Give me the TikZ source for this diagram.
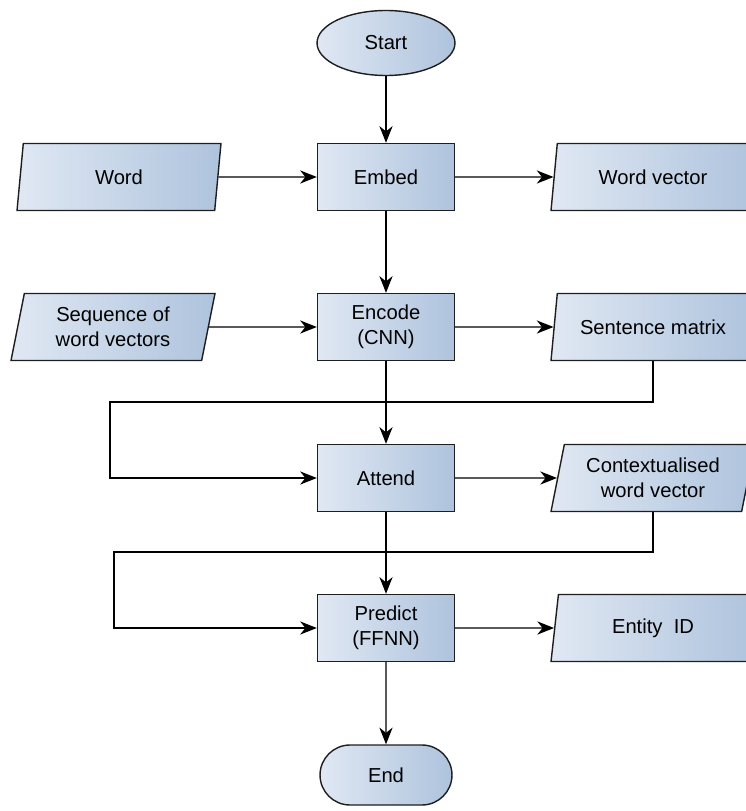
\documentclass[tikz,border=0pt]{standalone}
\usepackage{fontspec}
\setmainfont{Liberation Sans}
\usetikzlibrary{arrows.meta,shapes.geometric,shapes.misc}
\definecolor{BoxLight}{HTML}{E0E8F3}
\definecolor{BoxDark}{HTML}{AEC3DD}
\definecolor{EdgeGrey}{HTML}{1E1E1E}
\tikzset{
  flowbox/.style={draw=EdgeGrey,line width=0.8pt,left color=BoxLight,right color=BoxDark,
    minimum width=2.74cm,minimum height=1.34cm,align=center,inner sep=2pt,
    font=\fontsize{11.5}{14}\selectfont},
  flowio/.style={flowbox,trapezium,trapezium left angle=74,trapezium right angle=106,
    trapezium stretches body,minimum width=4.08cm},
  flowstart/.style={flowbox,ellipse,minimum width=2.76cm,minimum height=1.3cm},
  flowend/.style={flowbox,rounded rectangle,minimum width=2.78cm,minimum height=1.2cm},
  flowarrow/.style={line width=0.8pt,-{Stealth[length=9.5pt,width=7.5pt,inset=3pt]}}
}

\begin{document}
\begin{tikzpicture}[x=0.02cm,y=-0.02cm]
        \useasboundingbox (0,0) rectangle (745,811);
        % main column
        \node[flowstart] (start) at (386,43) {Start};
        \node[flowbox] (embed) at (386,177) {Embed};
        \node[flowbox] (encode) at (386,327) {Encode\\(CNN)};
        \node[flowbox] (attend) at (386,478) {Attend};
        \node[flowbox] (predict) at (386,628) {Predict\\(FFNN)};
        \node[flowend] (end) at (386,775) {End};
        % inputs and outputs
        \node[flowio] (word) at (119,177) {Word};
        \node[flowio] (wordvec) at (653,177) {Word vector};
        \node[flowio] (seqvec) at (113,327) {Sequence of\\word vectors};
        \node[flowio] (sentmat) at (653,327) {Sentence matrix};
        \node[flowio] (ctxvec) at (653,478) {Contextualised\\word vector};
        \node[flowio] (entity) at (653,628) {Entity\ \ ID};
        \coordinate (loopA) at (110,402);
        \coordinate (loopB) at (114,552);
        % connectors
        \draw[flowarrow] (start) -- (embed);
        \draw[flowarrow] (embed) -- (encode);
        \draw[flowarrow] (encode) -- (attend);
        \draw[flowarrow] (attend) -- (predict);
        \draw[flowarrow] (predict) -- (end);
        \draw[flowarrow] (word) -- (embed);
        \draw[flowarrow] (embed) -- (wordvec);
        \draw[flowarrow] (seqvec) -- (encode);
        \draw[flowarrow] (encode) -- (sentmat);
        \draw[flowarrow] (attend) -- (ctxvec);
        \draw[flowarrow] (predict) -- (entity);
        \draw[flowarrow] (sentmat.center |- sentmat.south) |- (loopA) |- (attend.west);
        \draw[flowarrow] (ctxvec.center |- ctxvec.south) |- (loopB) |- (predict.west);
      \end{tikzpicture}
\end{document}
